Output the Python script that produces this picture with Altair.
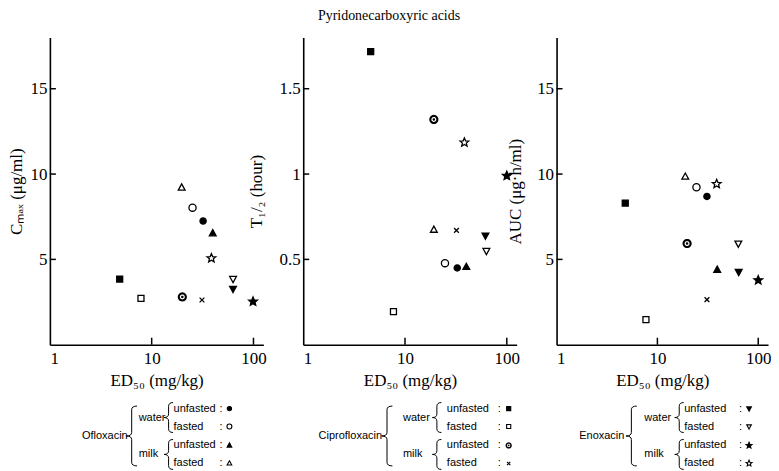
import math
import altair as alt
import pandas as pd

SERIF = "Liberation Serif"
SANS = "Liberation Sans"

TITLE = "Pyridonecarboxyric acids"
groups = ["OW_U", "OW_F", "OM_U", "OM_F", "CW_U", "CW_F", "CM_U", "CM_F", "EW_U", "EW_F", "EM_U", "EM_F"]
drugs = ["Ofloxacin", "Ciprofloxacin", "Enoxacin"]
media = ["water", "milk"]
conds = ["unfasted", "fasted"]

cmax_ed50 = [32, 25.2, 39.8, 19.7, 4.85, 7.85, 20, 31.2, 63, 63, 99, 38.6]
cmax_val = [7.25, 8.03, 6.52, 9.2, 3.85, 2.72, 2.8, 2.62, 3.28, 3.86, 2.53, 5.07]
thalf_ed50 = [32.6, 24.7, 40, 19.2, 4.6, 7.7, 19.2, 32, 61.7, 63, 100, 38.3]
thalf_val = [0.45, 0.478, 0.455, 0.673, 1.718, 0.194, 1.32, 0.67, 0.64, 0.55, 0.99, 1.185]
auc_ed50 = [31, 24.4, 39.2, 18.9, 4.8, 7.7, 19.7, 31, 64, 63.5, 100, 38.7]
auc_val = [8.69, 9.23, 4.38, 9.84, 8.3, 1.47, 5.93, 2.64, 4.27, 5.93, 3.78, 9.42]

x_ticks = [1, 10, 100]


# ---------- marker shapes (SVG paths, unit box) ----------
def circ(r, cw=True):
    s = 1 if cw else 0
    return f"M{-r},0A{r},{r},0,1,{s},{r},0A{r},{r},0,1,{s},{-r},0Z"


def poly_circle(r, n=24, cw=True):
    pts = []
    for k in range(n):
        a = 2 * math.pi * k / n
        if not cw:
            a = -a
        pts.append(f"{r * math.cos(a):.3f},{r * math.sin(a):.3f}")
    return "M" + "L".join(pts) + "Z"


BULLSEYE = poly_circle(1.15) + poly_circle(0.62, cw=False) + poly_circle(0.32, n=16)
STAR = ("M0,-1.15L0.304,-0.419L1.094,-0.355L0.492,0.16L0.676,0.93L0,0.52L-0.676,0.93"
        "L-0.492,0.16L-1.094,-0.355L-0.304,-0.419Z")
SHAPES = [
    circ(0.78), circ(0.9),
    "M0,-0.95L0.85,0.6L-0.85,0.6Z", "M0,-0.95L0.85,0.6L-0.85,0.6Z",
    "M-0.75,-0.75L0.75,-0.75L0.75,0.75L-0.75,0.75Z", "M-0.75,-0.75L0.75,-0.75L0.75,0.75L-0.75,0.75Z",
    BULLSEYE,
    "M-0.6,-0.6L0.6,0.6M-0.6,0.6L0.6,-0.6",
    "M0,0.95L0.85,-0.6L-0.85,-0.6Z", "M0,0.95L0.85,-0.6L-0.85,-0.6Z",
    STAR, STAR,
]
FILLS = ["black", "white"] * 6
STROKES = ["black"] * 6 + ["transparent"] + ["black"] * 5
BIG_BRACE = "M0.18,-1Q0,-1,0,-0.88L0,-0.12Q0,0,-0.18,0Q0,0,0,0.12L0,0.88Q0,1,0.18,1"
SMALL_BRACE = "M0.3,-1Q0,-1,0,-0.75L0,-0.25Q0,0,-0.3,0Q0,0,0,0.25L0,0.75Q0,1,0.3,1"

shape_scale = alt.Scale(domain=groups, range=SHAPES)
fill_scale = alt.Scale(domain=groups, range=FILLS)
stroke_scale = alt.Scale(domain=groups, range=STROKES)

H = 308
WIDTHS = [214, 214, 212]
LEG_X = [
    dict(name=78, big=82, med=89, small=119, cond=124, colon=170, mark=180),
    dict(name=79, big=84, med=100, small=134, cond=144, colon=195, mark=206),
    dict(name=68, big=75, med=88, small=123, cond=128, colon=183, mark=193),
]
ROW_Y = [372, 390, 409, 427]
MED_Y = [381, 418]
NAME_Y = 400


def panel(i, xs, ys, ytitle, ydom, yticks, title_pad):
    W = WIDTHS[i]
    df = pd.DataFrame({"ed50": xs, "val": ys, "grp": groups})
    xsc = alt.Scale(type="log", domain=[1, 125], nice=False)
    ysc = alt.Scale(domain=ydom, nice=False, zero=False)
    xax = alt.Axis(values=x_ticks, format="d", title="ED₅₀ (mg/kg)", labelPadding=6, titlePadding=6)
    yax = alt.Axis(values=yticks, format="~g", title=ytitle, labelPadding=3, titlePadding=title_pad)
    pts = alt.Chart(df).mark_point(opacity=1, strokeWidth=1.3, size=64).encode(
        x=alt.X("ed50:Q", scale=xsc, axis=xax),
        y=alt.Y("val:Q", scale=ysc, axis=yax),
        shape=alt.Shape("grp:N", scale=shape_scale, legend=None),
        fill=alt.Fill("grp:N", scale=fill_scale, legend=None),
        stroke=alt.Stroke("grp:N", scale=stroke_scale, legend=None),
    )
    yt = alt.Chart(pd.DataFrame({"val": yticks})).mark_rule(color="black", strokeWidth=1.5).encode(
        y=alt.Y("val:Q", scale=ysc, axis=yax), x=alt.value(0), x2=alt.value(6))
    xt = alt.Chart(pd.DataFrame({"ed50": x_ticks[1:]})).mark_rule(color="black", strokeWidth=1.5).encode(
        x=alt.X("ed50:Q", scale=xsc, axis=xax), y=alt.value(H), y2=alt.value(H - 7))

    L = LEG_X[i]
    gsub = groups[4 * i:4 * i + 4]
    txt = pd.DataFrame({
        "label": media + conds * 2 + [":"] * 4,
        "px": [L["med"]] * 2 + [L["cond"]] * 4 + [L["colon"]] * 4,
        "py": MED_Y + ROW_Y + ROW_Y,
    })
    t_left = alt.Chart(txt).mark_text(font=SANS, fontSize=11, align="left", baseline="middle",
                                      color="black").encode(
        x=alt.X("px:Q", scale=None, axis=None), y=alt.Y("py:Q", scale=None, axis=None),
        text="label:N")
    t_name = alt.Chart(pd.DataFrame({"label": [drugs[i]], "px": [L["name"]], "py": [NAME_Y]})).mark_text(
        font=SANS, fontSize=11, align="right", baseline="middle", color="black").encode(
        x=alt.X("px:Q", scale=None, axis=None), y=alt.Y("py:Q", scale=None, axis=None),
        text="label:N")
    lm = alt.Chart(pd.DataFrame({"grp": gsub, "px": [L["mark"]] * 4, "py": ROW_Y})).mark_point(
        opacity=1, strokeWidth=1.1, size=30).encode(
        x=alt.X("px:Q", scale=None, axis=None), y=alt.Y("py:Q", scale=None, axis=None),
        shape=alt.Shape("grp:N", scale=shape_scale, legend=None),
        fill=alt.Fill("grp:N", scale=fill_scale, legend=None),
        stroke=alt.Stroke("grp:N", scale=stroke_scale, legend=None))
    big = alt.Chart(pd.DataFrame({"px": [L["big"]], "py": [(ROW_Y[0] + ROW_Y[3]) / 2]})).mark_point(
        opacity=1, filled=False, color="black", strokeWidth=1, shape=BIG_BRACE, size=3600).encode(
        x=alt.X("px:Q", scale=None, axis=None), y=alt.Y("py:Q", scale=None, axis=None))
    small = alt.Chart(pd.DataFrame({"px": [L["small"]] * 2, "py": MED_Y})).mark_point(
        opacity=1, filled=False, color="black", strokeWidth=1, shape=SMALL_BRACE, size=900).encode(
        x=alt.X("px:Q", scale=None, axis=None), y=alt.Y("py:Q", scale=None, axis=None))

    layers = [pts, yt, xt, t_left, t_name, lm, big, small]
    if i == 1:
        ttl = alt.Chart(pd.DataFrame({"t": [TITLE]})).mark_text(
            font=SERIF, fontSize=14, align="center", baseline="middle", color="black").encode(
            text="t:N", x=alt.value(86), y=alt.value(-22))
        layers.append(ttl)
    return alt.layer(*layers).properties(width=W, height=H)


p1 = panel(0, cmax_ed50, cmax_val, "Cₘₐₓ (μg/ml)", [0, 18], [5, 10, 15], 4)
p2 = panel(1, thalf_ed50, thalf_val, "T₁/₂ (hour)", [0, 1.8], [0.5, 1, 1.5], 14)
p3 = panel(2, auc_ed50, auc_val, "AUC (μg·h/ml)", [0, 18], [5, 10, 15], 12)

chart = alt.hconcat(p1, p2, p3, spacing=40, bounds="flush").properties(
    padding={"left": 0, "top": 0, "right": 0, "bottom": 0}
).configure_view(stroke=None).configure_axis(
    domainColor="black", domainWidth=1.6, ticks=False, grid=False,
    labelFont=SERIF, labelFontSize=17, labelColor="black",
    titleFont=SERIF, titleFontSize=17, titleFontWeight="normal", titleColor="black",
)

chart.save("out.html", embed_options={"renderer": "svg", "actions": False})
